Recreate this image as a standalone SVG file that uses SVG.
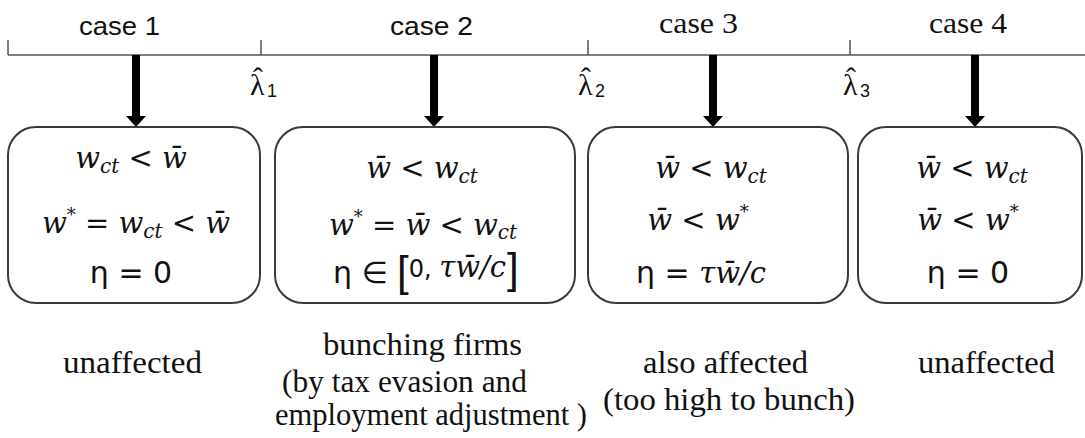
<svg xmlns="http://www.w3.org/2000/svg" width="1085" height="438" viewBox="0 0 1085 438">
<style>
.axis{stroke:#555;stroke-width:1.5;fill:none}
.box{fill:#fff;stroke:#3a3a3a;stroke-width:2}
.arrow{stroke:#000;stroke-width:8;fill:none}
.cs{font-family:"Liberation Sans",Arial,sans-serif;font-size:25px;fill:#111}
.ct{font-family:"Liberation Serif","Times New Roman",serif;font-size:30px;fill:#111}
.lam{font-family:"Liberation Serif",serif;font-size:30px;fill:#111}
.lsub{font-family:"Liberation Sans",Arial,sans-serif;font-size:18px}
.m{font-family:"DejaVu Serif",serif;font-size:29px;font-style:italic;fill:#111}
.op{font-style:normal}
.sub{font-size:20px}
.sup{font-size:18px;font-style:normal}
.eta{font-family:"DejaVu Sans",sans-serif;font-size:30px;fill:#111}
.br{font-family:"Liberation Sans",sans-serif;font-size:42px;font-style:normal}
.lbl{font-family:"Liberation Serif","Times New Roman",serif;font-size:31px;fill:#111}
</style>
<defs>
<marker id="head" markerUnits="userSpaceOnUse" markerWidth="24" markerHeight="24" viewBox="0 -12 12 24" refX="0" refY="0" orient="auto">
<path d="M0,-10 L11,0 L0,10 z" fill="#000"/>
</marker>
</defs>
<rect width="1085" height="438" fill="#fff"/>

<g id="axis">
<path class="axis" d="M8,55 H1085 M8,40 V55 M261,40 V55 M588,40 V55 M850,40 V55"/>
<text class="cs" x="79" y="35" textLength="81" lengthAdjust="spacingAndGlyphs">case 1</text>
<text class="cs" x="390" y="35" textLength="83" lengthAdjust="spacingAndGlyphs">case 2</text>
<text class="ct" x="659" y="33" textLength="79" lengthAdjust="spacingAndGlyphs">case 3</text>
<text class="ct" x="929" y="33" textLength="78" lengthAdjust="spacingAndGlyphs">case 4</text>
<text id="lambda1" class="lam" x="250" y="95">λ<tspan x="253" dy="-7">ˆ</tspan><tspan class="lsub" x="267" dy="9">1</tspan></text>
<text id="lambda2" class="lam" x="578" y="95">λ<tspan x="581" dy="-7">ˆ</tspan><tspan class="lsub" x="595" dy="9">2</tspan></text>
<text id="lambda3" class="lam" x="843" y="95">λ<tspan x="846" dy="-7">ˆ</tspan><tspan class="lsub" x="860" dy="9">3</tspan></text>
</g>

<g id="connectors">
<line class="arrow" x1="136" y1="55" x2="136" y2="116" marker-end="url(#head)"/>
<line class="arrow" x1="434" y1="55" x2="434" y2="116" marker-end="url(#head)"/>
<line class="arrow" x1="713" y1="55" x2="713" y2="116" marker-end="url(#head)"/>
<line class="arrow" x1="975" y1="55" x2="975" y2="116" marker-end="url(#head)"/>
</g>

<g id="case1">
<rect class="box" x="8" y="127" width="252" height="176" rx="28"/>
<text class="m" x="131" y="168" text-anchor="middle">w<tspan class="sub" dy="5">ct</tspan><tspan class="op" dy="-5"> &lt; </tspan>w̄</text>
<text class="m" x="136" y="233" text-anchor="middle">w<tspan class="sup" dy="-12">*</tspan><tspan class="op" dy="12"> = </tspan>w<tspan class="sub" dy="5">ct</tspan><tspan class="op" dy="-5"> &lt; </tspan>w̄</text>
<text class="eta" x="131" y="283" text-anchor="middle">η = 0</text>
</g>

<g id="case2">
<rect class="box" x="275" y="127" width="300" height="176" rx="28"/>
<text class="m" x="422" y="178" text-anchor="middle">w̄<tspan class="op"> &lt; </tspan>w<tspan class="sub" dy="5">ct</tspan></text>
<text class="m" x="423" y="235" text-anchor="middle">w<tspan class="sup" dy="-12">*</tspan><tspan class="op" dy="12"> = </tspan>w̄<tspan class="op"> &lt; </tspan>w<tspan class="sub" dy="4">ct</tspan></text>
<text class="eta" x="333" y="283">η ∈<tspan class="br" x="397" dy="3">[</tspan><tspan font-size="24" dy="-9">0, </tspan><tspan class="m" font-size="27">τw̄/c</tspan><tspan class="br" x="507" dy="6">]</tspan></text>
</g>

<g id="case3">
<rect class="box" x="588" y="127" width="260" height="176" rx="28"/>
<text class="m" x="711" y="178" text-anchor="middle">w̄<tspan class="op"> &lt; </tspan>w<tspan class="sub" dy="5">ct</tspan></text>
<text class="m" x="698" y="230" text-anchor="middle">w̄<tspan class="op">  &lt; </tspan>w<tspan class="sup" dy="-12">*</tspan></text>
<text class="eta" x="701" y="283" text-anchor="middle">η =  <tspan class="m" font-size="27">τw̄/c</tspan></text>
</g>

<g id="case4">
<rect class="box" x="858" y="127" width="224" height="176" rx="28"/>
<text class="m" x="972" y="178" text-anchor="middle">w̄<tspan class="op"> &lt; </tspan>w<tspan class="sub" dy="5">ct</tspan></text>
<text class="m" x="968" y="230" text-anchor="middle">w̄<tspan class="op"> &lt; </tspan>w<tspan class="sup" dy="-12">*</tspan></text>
<text class="eta" x="968" y="283" text-anchor="middle">η = 0</text>
</g>

<g id="labels">
<text class="lbl" x="63" y="373" textLength="139" lengthAdjust="spacingAndGlyphs">unaffected</text>
<text class="lbl" x="323" y="355" textLength="199" lengthAdjust="spacingAndGlyphs">bunching firms</text>
<text class="lbl" x="282" y="392" textLength="245" lengthAdjust="spacingAndGlyphs">(by tax evasion and</text>
<text class="lbl" x="275" y="425" textLength="312" lengthAdjust="spacingAndGlyphs">employment adjustment )</text>
<text class="lbl" x="643" y="373" textLength="165" lengthAdjust="spacingAndGlyphs">also affected</text>
<text class="lbl" x="603" y="410" textLength="252" lengthAdjust="spacingAndGlyphs">(too high to bunch)</text>
<text class="lbl" x="918" y="373" textLength="137" lengthAdjust="spacingAndGlyphs">unaffected</text>
</g>
</svg>
